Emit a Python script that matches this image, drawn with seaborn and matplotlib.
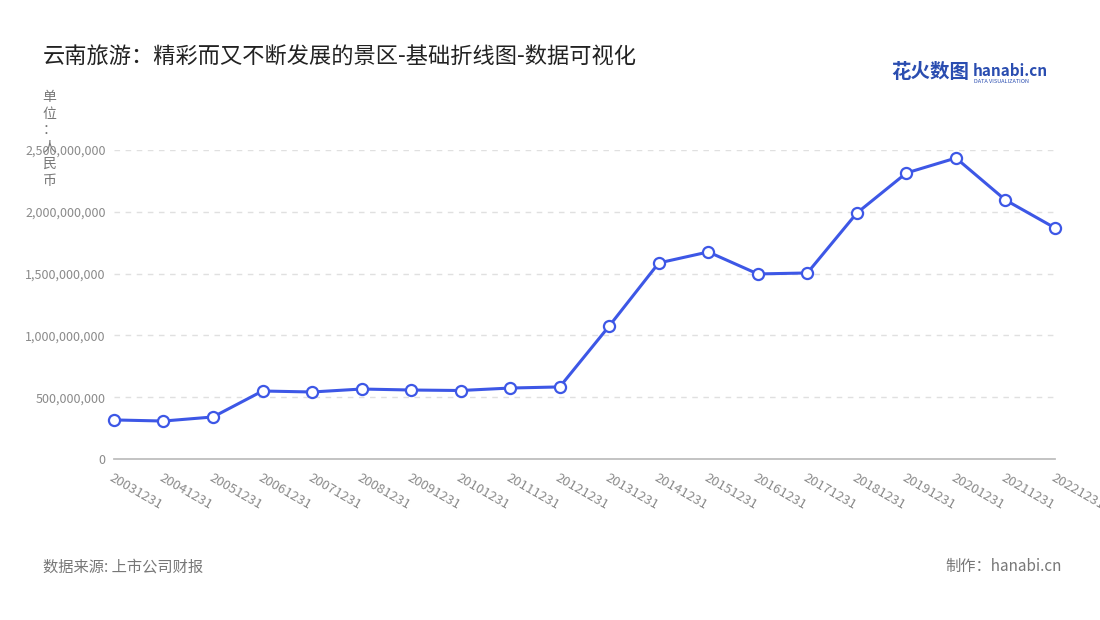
import matplotlib
matplotlib.use("Agg")
import matplotlib.pyplot as plt
import seaborn as sns
import pandas as pd

years = ["20031231","20041231","20051231","20061231","20071231","20081231","20091231",
         "20101231","20111231","20121231","20131231","20141231","20151231","20161231",
         "20171231","20181231","20191231","20201231","20211231","20221231"]
values = [0.316e9,0.307e9,0.340e9,0.550e9,0.542e9,0.566e9,0.558e9,0.554e9,0.574e9,0.583e9,
          1.076e9,1.586e9,1.675e9,1.497e9,1.505e9,1.990e9,2.314e9,2.435e9,2.095e9,1.869e9]
yticks = [0, 500000000, 1000000000, 1500000000, 2000000000, 2500000000]

sns.set_theme(style="white")
plt.rcParams['font.family'] = ['Noto Sans CJK SC', 'DejaVu Sans']

df = pd.DataFrame({"x": range(len(years)), "v": values})
fig = plt.figure(figsize=(11, 6.2), dpi=100)
ax = fig.add_axes([0.1036, 0.2597, 0.8555, 0.4984])
color = "#3d57e6"
sns.lineplot(data=df, x="x", y="v", ax=ax, color=color, linewidth=2.2,
             marker="o", markersize=8, markerfacecolor="white",
             markeredgecolor=color, markeredgewidth=1.6, clip_on=False, zorder=3)
ax.set_xlim(0, len(years) - 1)
ax.set_ylim(0, 2.5e9)
ax.set_yticks(yticks)
ax.set_yticklabels([f"{v:,}" for v in yticks], fontsize=9, color="#8a8a8a")
ax.set_xticks(range(len(years)))
ax.set_xticklabels(years, rotation=-30, ha="left", va="top", fontsize=9.5,
                   color="#8a8a8a", rotation_mode="anchor")
ax.tick_params(axis="x", length=5, color="#bbbbbb", pad=4)
ax.tick_params(axis="y", length=0, pad=6)
ax.set_xlabel(""); ax.set_ylabel("")
for s in ["top", "right", "left"]:
    ax.spines[s].set_visible(False)
ax.spines["bottom"].set_color("#bbbbbb")
for t in yticks[1:]:
    ax.axhline(t, color="#e0e0e0", linestyle=(0, (4, 4)), linewidth=1, zorder=0)

fig.text(0.039, 0.91, "云南旅游：精彩而又不断发展的景区-基础折线图-数据可视化",
         fontsize=16, color="#222222", va="center")
fig.text(0.045, 0.855, "单\n位\n：\n人\n民\n币", fontsize=10, color="#777777",
         va="top", ha="center", linespacing=1.25)
fig.text(0.81, 0.883, "花火数图", fontsize=14, color="#2a4db0", fontweight="bold", va="center")
fig.text(0.884, 0.885, "hanabi.cn", fontsize=11, color="#2a4db0", fontweight="bold", va="center")
fig.text(0.885, 0.868, "DATA VISUALIZATION", fontsize=4, color="#2a4db0", va="center")
fig.text(0.039, 0.086, "数据来源: 上市公司财报", fontsize=11, color="#777777", va="center")
fig.text(0.965, 0.086, "制作：hanabi.cn", fontsize=11, color="#777777", va="center", ha="right")

fig.savefig("out.png", dpi=100)
